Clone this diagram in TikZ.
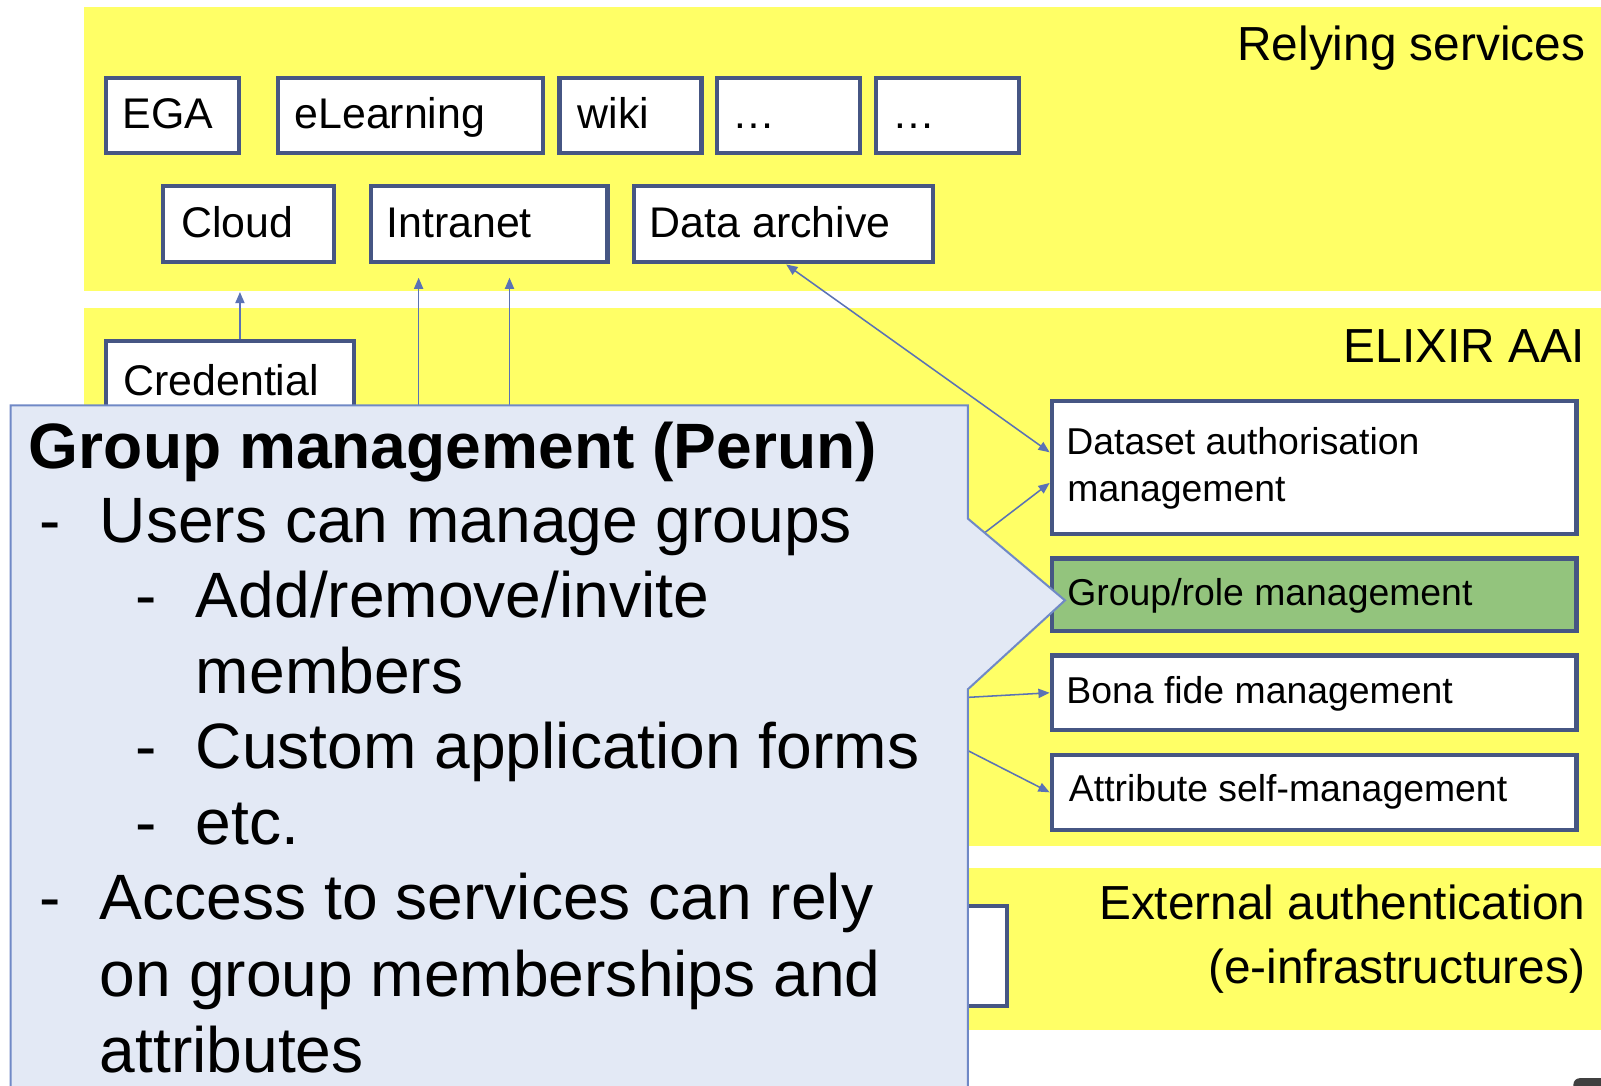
\documentclass[tikz,border=0pt]{standalone}
\usepackage{fontspec}
\setmainfont{Liberation Sans}
\usetikzlibrary{arrows.meta,fit,calc}
\definecolor{band}{HTML}{FFFF66}
\definecolor{boxline}{HTML}{465683}
\definecolor{grp}{HTML}{93C47D}
\definecolor{callfill}{HTML}{E3E9F5}
\definecolor{callline}{HTML}{7089C6}
\definecolor{arrc}{HTML}{5A72B5}
\begin{document}
\begin{tikzpicture}[x=0.5pt,y=-0.5pt,
  svc/.style={draw=boxline, line width=2pt, fill=white, inner sep=0pt},
  lbl/.style={anchor=base west, inner sep=0pt, font=\fontsize{21}{25}\selectfont},
  rlbl/.style={anchor=base west, inner sep=0pt, font=\fontsize{18.3}{22}\selectfont},
  bandlbl/.style={anchor=base east, inner sep=0pt, font=\fontsize{23.4}{28}\selectfont},
  conn/.style={draw=arrc, line width=0.75pt, -{Triangle[length=5.5pt,width=4.5pt]}},
  conntwo/.style={draw=arrc, line width=0.75pt, {Triangle[length=5.5pt,width=4.5pt]}-{Triangle[length=5.5pt,width=4.5pt]}},
  calltxt/.style={anchor=base west, inner sep=0pt, font=\fontsize{31.4}{37}\selectfont},
  callbold/.style={calltxt, font=\fontsize{31.4}{37}\selectfont\bfseries}]
\useasboundingbox (0,0) rectangle (1568,1063);
\clip (0,0) rectangle (1568,1063);
% bands
\fill[band] (82,7) rectangle (1568,285);
\fill[band] (82,302) rectangle (1568,829);
\fill[band] (82,850) rectangle (1568,1009);
\node[bandlbl] (lrs) at (1553,59.5) {Relying services};
\node[bandlbl] (lea) at (1553,355) {ELIXIR AAI};
\node[bandlbl] (lext1) at (1553,901) {External authentication};
\node[bandlbl] (lext2) at (1553,963) {(e-infrastructures)};
% relying services
\node[svc, fit={(104,76)(234,150)}] (ega) {};
\node[lbl] (tega) at (119.5,126) {EGA};
\node[svc, fit={(272,76)(532,150)}] (elearn) {};
\node[lbl] (telearn) at (288,126) {eLearning};
\node[svc, fit={(548,76)(687,150)}] (wiki) {};
\node[lbl] (twiki) at (565.5,126) {wiki};
\node[svc, fit={(702,76)(842,150)}] (dotsa) {};
\node[lbl] (tdotsa) at (717,126) {…};
\node[svc, fit={(858,76)(998,150)}] (dotsb) {};
\node[lbl] (tdotsb) at (874,126) {…};
\node[svc, fit={(160,182)(327,257)}] (cloud) {};
\node[lbl] (tcloud) at (177,232.5) {Cloud};
\node[svc, fit={(363,182)(595,257)}] (intra) {};
\node[lbl] (tintra) at (378,232.5) {Intranet};
\node[svc, fit={(621,182)(914,257)}] (da) {};
\node[lbl] (tda) at (636,232.5) {Data archive};
% ELIXIR AAI
\node[svc, fit={(104,334)(347,500)}] (cred) {};
\node[lbl] (tcred) at (120.5,387) {Credential};
\node[svc, fit={(1030,393)(1544,523)}] (ds) {};
\node[rlbl] (tds1) at (1044,445.6) {Dataset authorisation};
\node[rlbl] (tds2) at (1045,491.4) {management};
\node[svc, fill=grp, fit={(1030,547)(1544,618)}] (grp) {};
\node[rlbl] (tgrp) at (1045,592.6) {Group/role management};
\node[svc, fit={(1030,642)(1544,715)}] (bf) {};
\node[rlbl] (tbf) at (1044,688.7) {Bona fide management};
\node[svc, fit={(1030,739)(1544,813)}] (at) {};
\node[rlbl] (tat) at (1046.5,785.2) {Attribute self-management};
% external
\node[svc, fit={(600,887)(986,985)}] (ext) {};
% connectors
\coordinate (cloudin) at (235,286);
\draw[conn] (cloudin |- cred.north) -- (cloudin);
\coordinate (ia) at (410,480);
\coordinate (iae) at (410,272);
\draw[conn] (ia) -- (iae);
\coordinate (ib) at (499,480);
\coordinate (ibe) at (499,272);
\draw[conn] (ib) -- (ibe);
\draw[conntwo] (770,0 |- da.south) -- (ds.west |- 0,443);
\coordinate (sa) at (930,548);
\draw[conn] (sa) -- (ds.west |- 0,473);
\coordinate (sb) at (930,684);
\draw[conn] (sb) -- (bf.west);
\coordinate (sc) at (930,726);
\draw[conn] (sc) -- (at.west);
% callout
\filldraw[fill=callfill, draw=callline, line width=1pt]
  (10.5,397) -- (948,397) -- (948,508) -- (1043,588) -- (948,675) -- (948,1080) -- (10.5,1080) -- cycle;
\node[callbold] (c0) at (28,459) {Group management (Perun)};
\node[calltxt] (d1) at (38,531) {-};
\node[calltxt] (c1) at (97.5,531) {Users can manage groups};
\node[calltxt] (d2) at (132,605) {-};
\node[calltxt] (c2) at (191.5,605) {Add/remove/invite};
\node[calltxt] (c3) at (191.5,679) {members};
\node[calltxt] (d4) at (132,753) {-};
\node[calltxt] (c4) at (191.5,753) {Custom application forms};
\node[calltxt] (d5) at (132,827) {-};
\node[calltxt] (c5) at (191.5,827) {etc.};
\node[calltxt] (d6) at (38,901) {-};
\node[calltxt] (c6) at (97.5,901) {Access to services can rely};
\node[calltxt] (c7) at (97.5,976) {on group memberships and};
\node[calltxt] (c8) at (97.5,1050) {attributes};
% corner fragment
\fill[black!75, rounded corners=3pt] (1541,1056) rectangle (1600,1090);
\end{tikzpicture}
\end{document}
